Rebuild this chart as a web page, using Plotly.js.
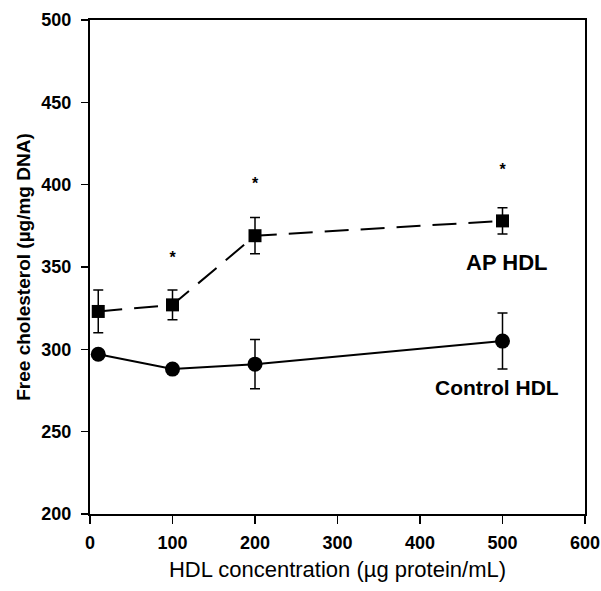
<!DOCTYPE html>
<html>
<head>
<meta charset="utf-8">
<script src="https://cdn.plot.ly/plotly-3.0.1.min.js"></script>
<style>html,body{margin:0;padding:0;background:#fff;}#chart{width:601px;height:591px;}</style>
</head>
<body>
<div id="chart"></div>
<script>
const concentration = [10, 100, 200, 500];
const apHDL = [323, 327, 369, 378];
const apHDLErr = [13, 9, 11, 8];
const controlHDL = [297, 288, 291, 305];
const controlHDLErr = [2, 2, 15, 17];
const starX = [100, 200, 500];
const starY = [355, 400, 408];
const xTicks = [0, 100, 200, 300, 400, 500, 600];
const yTicks = [200, 250, 300, 350, 400, 450, 500];

const FONT = 'Liberation Sans, Arial, sans-serif';

const traces = [
  {
    x: concentration, y: apHDL, type: 'scatter', mode: 'lines+markers', name: 'AP HDL',
    line: {color: '#000', width: 2, dash: '24px,12px'},
    marker: {symbol: 'square', size: 13, color: '#000'},
    error_y: {type: 'data', array: apHDLErr, visible: true, color: '#000', thickness: 1.5, width: 5}
  },
  {
    x: concentration, y: controlHDL, type: 'scatter', mode: 'lines+markers', name: 'Control HDL',
    line: {color: '#000', width: 2},
    marker: {symbol: 'circle', size: 15, color: '#000'},
    error_y: {type: 'data', array: controlHDLErr, visible: true, color: '#000', thickness: 1.5, width: 5}
  },
  {
    x: starX, y: starY, type: 'scatter', mode: 'text', text: starX.map(() => '*'),
    textfont: {family: FONT, size: 16, color: '#000', weight: 'bold'},
    hoverinfo: 'skip'
  }
];

const layout = {
  width: 601, height: 591,
  margin: {l: 90, r: 16, t: 20, b: 77},
  showlegend: false,
  paper_bgcolor: '#fff', plot_bgcolor: '#fff',
  font: {family: FONT, color: '#000'},
  xaxis: {
    range: [0, 600], tickvals: xTicks, ticktext: xTicks.map(String),
    showgrid: false, zeroline: false, showline: true, mirror: true,
    linecolor: '#000', linewidth: 2, ticks: 'outside', ticklen: 8, tickwidth: 1.5, tickcolor: '#000',
    ticklabelstandoff: 3,
    tickfont: {size: 18, family: FONT, weight: 'bold'},
    title: {text: 'HDL concentration (µg protein/mL)', font: {size: 22}, standoff: 10}
  },
  yaxis: {
    range: [200, 500], tickvals: yTicks, ticktext: yTicks.map(String),
    showgrid: false, zeroline: false, showline: true, mirror: true,
    linecolor: '#000', linewidth: 2, ticks: 'outside', ticklen: 7, tickwidth: 1.5, tickcolor: '#000',
    ticklabelstandoff: 6,
    tickfont: {size: 18, family: FONT, weight: 'bold'},
    title: {text: 'Free cholesterol (µg/mg DNA)', font: {size: 19, weight: 'bold'}, standoff: 6}
  },
  annotations: [
    {x: 505, y: 353, xref: 'x', yref: 'y', text: 'AP HDL', showarrow: false,
     font: {size: 22, weight: 'bold', family: FONT}},
    {x: 493, y: 277, xref: 'x', yref: 'y', text: 'Control HDL', showarrow: false,
     font: {size: 21, weight: 'bold', family: FONT}}
  ]
};

Plotly.newPlot('chart', traces, layout, {displayModeBar: false, staticPlot: true});
</script>
</body>
</html>
